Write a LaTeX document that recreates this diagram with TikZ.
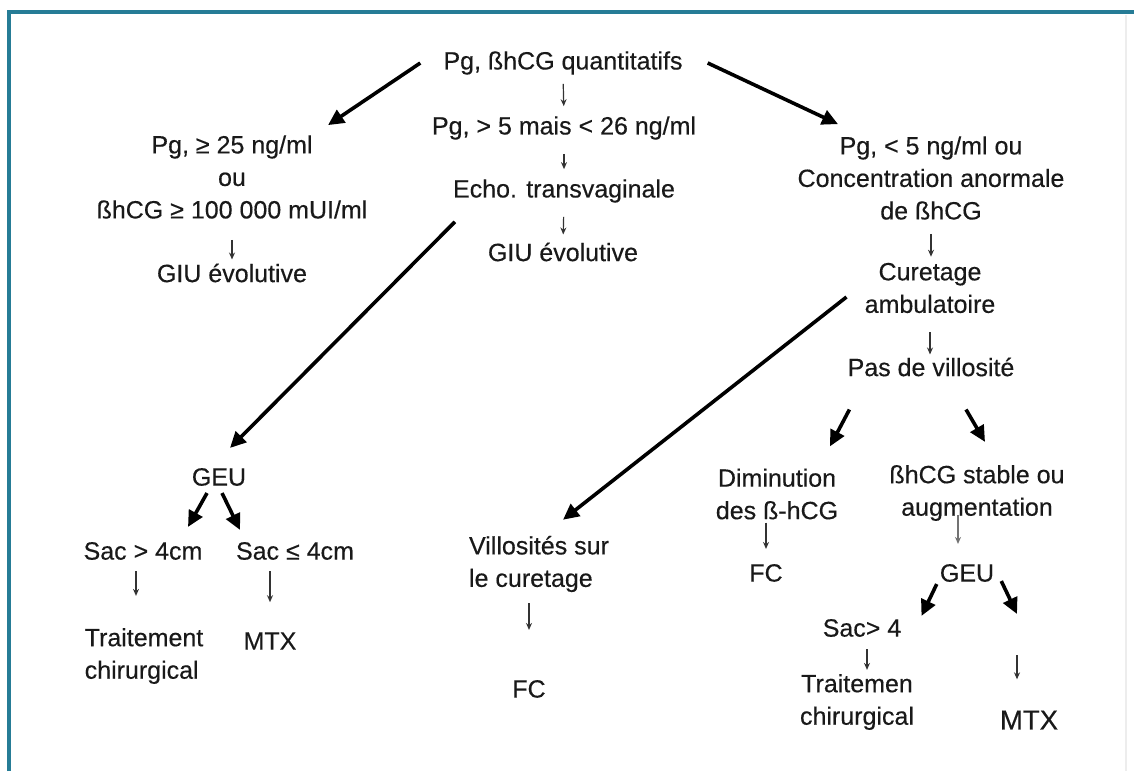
\documentclass[tikz,border=0pt]{standalone}
\usepackage{fontspec}
\setmainfont{Liberation Sans}[FakeBold=0.35]
\usetikzlibrary{arrows.meta}
\definecolor{frameteal}{RGB}{38,124,150}
\definecolor{inkgray}{RGB}{25,25,25}

\begin{document}
\begin{tikzpicture}[
        x=1pt, y=-1pt,
        every node/.style={inner sep=0pt, text=inkgray, align=center,
            font=\fontsize{25}{32.5}\selectfont},
        fat/.style={-{Triangle[length=16pt,width=15pt]}, line width=3.6pt, black},
        down/.style={-{Stealth[length=7pt,width=6pt]}, line width=1.2pt, black!80}
        ]
            \useasboundingbox (0,0) rectangle (1134,771);

            % Frame
            \draw[frameteal, line width=4pt] (9,771) -- (9,12) -- (1134,12);
            \draw[black!7, line width=1.5pt] (1126,15) -- (1126,771);

            % Top
            \node (root) at (563,63) {Pg, ßhCG quantitatifs};
            \node (mid) at (564,128) {Pg, > 5 mais < 26 ng/ml};
            \node (echo) at (564,191) {Echo. transvaginale};
            \node (giuMid) at (563,252) {GIU évolutive};
            \draw[down, shorten <=9pt, shorten >=10pt] (root.south) -- (mid.north);
            \draw[down, shorten <=14pt, shorten >=10pt] (mid.south) -- (echo.north);
            \draw[down, shorten <=14pt, shorten >=8pt] (echo.south) -- (giuMid.north);

            % Left branch
            \node (high) at (232,177) {Pg, ≥ 25 ng/ml\\ou\\ßhCG ≥ 100 000 mUI/ml};
            \node (giuLeft) at (232,273) {GIU évolutive};
            \draw[fat] ([xshift=-23pt]root.west) -- ([xshift=96pt,yshift=10pt]high.north);
            \draw[down, shorten <=21pt, shorten >=4pt] (high.south) -- (giuLeft.north);

            \node (geuL) at (219,477) {GEU};
            \node (sacBig) at (143,551) {Sac > 4cm};
            \node (sacSmall) at (295,551) {Sac ≤ 4cm};
            \node[align=left] (chirL) at (144,656) {Traitement\\chirurgical};
            \node (mtxL) at (270,641) {MTX};
            \draw[fat] ([xshift=2pt,yshift=-19pt]echo.south west) -- ([xshift=11pt,yshift=20pt]geuL.north);
            \draw[fat] ([xshift=-12pt,yshift=-7pt]geuL.south) -- ([xshift=45pt,yshift=15pt]sacBig.north);
            \draw[fat] ([xshift=3pt,yshift=-7pt]geuL.south) -- ([xshift=-55pt,yshift=12pt]sacSmall.north);
            \draw[down, shorten <=11pt, shorten >=32pt] ([xshift=-7pt]sacBig.south) -- ([xshift=-7pt]sacBig.south |- chirL.north);
            \draw[down, shorten <=11pt, shorten >=30pt] (mtxL.north |- sacSmall.south) -- (mtxL.north);

            % Right branch
            \node (low) at (931,178) {Pg, < 5 ng/ml ou\\Concentration anormale\\de ßhCG};
            \node (cure) at (930,288) {Curetage\\ambulatoire};
            \node (pasvil) at (931,367) {Pas de villosité};
            \draw[fat] ([xshift=25pt]root.east) -- ([xshift=-93pt,yshift=12pt]low.north);
            \draw[down, shorten <=14pt, shorten >=6pt] (low.south) -- (low.south |- cure.north);
            \draw[down, shorten <=19pt, shorten >=3pt] (cure.south) -- (cure.south |- pasvil.north);

            % Middle
            \node[align=left] (vill) at (539,564) {Villosités sur\\le curetage};
            \node (fcMid) at (529,689) {FC};
            \draw[fat] ([xshift=-18pt,yshift=-9pt]cure.west) -- ([xshift=24pt,yshift=16pt]vill.north);
            \draw[down, shorten <=11pt, shorten >=50pt] (fcMid.north |- vill.south) -- (fcMid.north);

            % Below Pas de villosite
            \node (dimin) at (777,494) {Diminution\\des ß-hCG};
            \node (fcRight) at (766,573) {FC};
            \node (stable) at (977,493) {ßhCG stable ou\\augmentation};
            \node (geuR) at (967,573) {GEU};
            \draw[fat] ([xshift=2pt,yshift=-33pt]pasvil.south west) -- ([xshift=53pt,yshift=22pt]dimin.north);
            \draw[fat] ([xshift=35pt,yshift=-33pt]pasvil.south) -- ([xshift=8pt,yshift=23pt]stable.north);
            \draw[down, shorten <=3pt, shorten >=15pt] (fcRight.north |- dimin.south) -- (fcRight.north);
            \draw[down, black!55, shorten <=-6pt, shorten >=20pt] ([xshift=-9pt]geuR.north |- stable.south) -- ([xshift=-9pt]geuR.north);

            \node (sacR) at (862,628) {Sac> 4};
            \node (chirR) at (857,702) {Traitemen\\chirurgical};
            \coordinate (ghostR) at (1017,614);
            \node[font=\fontsize{27.5}{33}\selectfont] (mtxR) at (1029,720) {MTX};
            \draw[fat] ([xshift=-3pt,yshift=-2pt]geuR.south west) -- ([xshift=20pt,yshift=3pt]sacR.north east);
            \draw[fat] ([xshift=7pt,yshift=1pt]geuR.south east) -- (ghostR);
            \draw[down, shorten <=12pt, shorten >=4pt] ([xshift=5pt]sacR.south) -- ([xshift=5pt]sacR.south |- chirR.north);
            \draw[down, shorten <=41pt, shorten >=31pt] (ghostR) -- (ghostR |- mtxR.north);
        \end{tikzpicture}
\end{document}
